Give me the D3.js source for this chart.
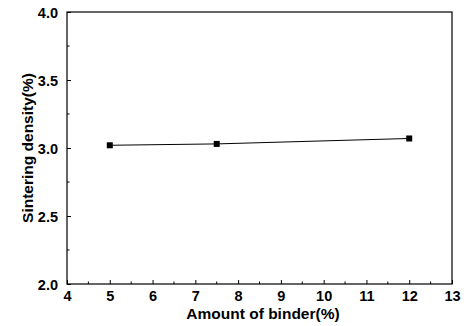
<!DOCTYPE html>
<html>
<head>
<meta charset="utf-8">
<script src="https://cdn.jsdelivr.net/npm/d3@7"></script>
<style>
  body { margin: 0; background: #fff; }
  text { font-family: "Liberation Sans", Arial, sans-serif; font-weight: bold; }
</style>
</head>
<body>
<div id="chart"></div>
<script>
const binder = [5, 7.5, 12]
const density = [3.02, 3.03, 3.07]
const xTicks = [4, 5, 6, 7, 8, 9, 10, 11, 12, 13]
const yTicks = [2.0, 2.5, 3.0, 3.5, 4.0]

const W = 464, H = 326
const MARGIN = { TOP: 12, BOTTOM: 42, LEFT: 67, RIGHT: 12 }
const WIDTH = W - MARGIN.LEFT - MARGIN.RIGHT
const HEIGHT = H - MARGIN.TOP - MARGIN.BOTTOM

const svg = d3.select("#chart").append("svg")
  .attr("width", W)
  .attr("height", H)

const g = svg.append("g")
  .attr("transform", `translate(${MARGIN.LEFT}, ${MARGIN.TOP})`)

const x = d3.scaleLinear().domain([4, 13]).range([0, WIDTH])
const y = d3.scaleLinear().domain([2, 4]).range([HEIGHT, 0])

// frame
g.append("rect")
  .attr("width", WIDTH)
  .attr("height", HEIGHT)
  .attr("fill", "none")
  .attr("stroke", "#000")
  .attr("stroke-width", 1.2)

// minor ticks (inward)
const xMinor = d3.range(4.5, 13, 1)
const yMinor = d3.range(2.25, 4, 0.5)
g.selectAll(".xminor").data(xMinor).enter().append("line")
  .attr("x1", d => x(d)).attr("x2", d => x(d))
  .attr("y1", HEIGHT).attr("y2", HEIGHT - 2.5)
  .attr("stroke", "#000")
g.selectAll(".yminor").data(yMinor).enter().append("line")
  .attr("x1", 0).attr("x2", 2.5)
  .attr("y1", d => y(d)).attr("y2", d => y(d))
  .attr("stroke", "#000")

const xAxis = d3.axisBottom(x).tickValues(xTicks).tickSizeInner(-4).tickSizeOuter(0).tickPadding(7)
const yAxis = d3.axisLeft(y).tickValues(yTicks).tickSizeInner(-4).tickSizeOuter(0).tickPadding(9)
  .tickFormat(d3.format(".1f"))

const xg = g.append("g").attr("transform", `translate(0, ${HEIGHT})`).call(xAxis)
const yg = g.append("g").call(yAxis)
xg.select(".domain").remove()
yg.select(".domain").remove()
g.selectAll(".tick text").attr("font-size", 14.5).attr("fill", "#000")
  .style("font-family", "'Liberation Sans', Arial, sans-serif").style("font-weight", "bold")
yg.selectAll(".tick text").attr("dy", "0.36em")

// line + markers
const pts = binder.map((b, i) => ({ b, v: density[i] }))
g.append("path")
  .datum(pts)
  .attr("fill", "none")
  .attr("stroke", "#000")
  .attr("stroke-width", 1)
  .attr("d", d3.line().x(d => x(d.b)).y(d => y(d.v)))

g.selectAll(".pt").data(pts).enter().append("rect")
  .attr("x", d => x(d.b) - 3)
  .attr("y", d => y(d.v) - 3)
  .attr("width", 6)
  .attr("height", 6)
  .attr("fill", "#000")

// axis titles
svg.append("text")
  .attr("x", 263)
  .attr("y", 319)
  .attr("text-anchor", "middle")
  .attr("font-size", 15.5)
  .text("Amount of binder(%)")

svg.append("text")
  .attr("transform", `translate(33, ${MARGIN.TOP + HEIGHT / 2}) rotate(-90)`)
  .attr("text-anchor", "middle")
  .attr("font-size", 15.5)
  .text("Sintering density(%)")
</script>
</body>
</html>
